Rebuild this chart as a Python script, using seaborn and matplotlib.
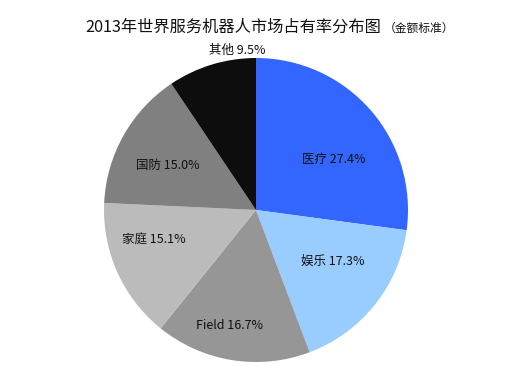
import matplotlib
matplotlib.use('Agg')
import matplotlib.pyplot as plt
import seaborn as sns
import numpy as np

# 2013年世界服务机器人市场占有率（金额标准）
categories = ['医疗', '娱乐', 'Field', '家庭', '国防', '其他']
shares = [27.4, 17.3, 16.7, 15.1, 15.0, 9.5]

# layout / style
colors = ['#3366FF', '#99CCFF', '#969696', '#BBBBBB', '#808080', '#0D0D0D']
label_radius = [0.61, 0.61, 0.78, 0.70, 0.65, 1.06]
label_shift = [-8, 4.6, -3.7, -7.9, 2.4, -10.4]  # degrees off the wedge middle

sns.set_theme(style='white')
plt.rcParams['font.family'] = ['Noto Sans CJK SC', 'DejaVu Sans']

fig = plt.figure(figsize=(5.09, 3.66), dpi=100)
ax = fig.add_axes([104 / 509, 4 / 366, 304 / 509, 304 / 366])

wedges, _ = ax.pie(shares, colors=colors, startangle=90, counterclock=False,
                   wedgeprops={'linewidth': 0})
ax.set_xlim(-1, 1)
ax.set_ylim(-1, 1)
ax.set_aspect('equal')

for w, cat, val, r, d in zip(wedges, categories, shares, label_radius, label_shift):
    ang = np.deg2rad((w.theta1 + w.theta2) / 2 + d)
    ax.text(r * np.cos(ang), r * np.sin(ang), f'{cat} {val:.1f}%',
            ha='center', va='center', fontsize=9, color='#111111')

# title in two sizes, like the original
fig.text(381 / 509, 0.9126, '2013年世界服务机器人市场占有率分布图',
         ha='right', va='baseline', fontsize=11.7, color='#111111')
fig.text(384 / 509, 0.9126, '（金额标准）',
         ha='left', va='baseline', fontsize=8.5, color='#111111')

fig.savefig('out.png', dpi=100)
